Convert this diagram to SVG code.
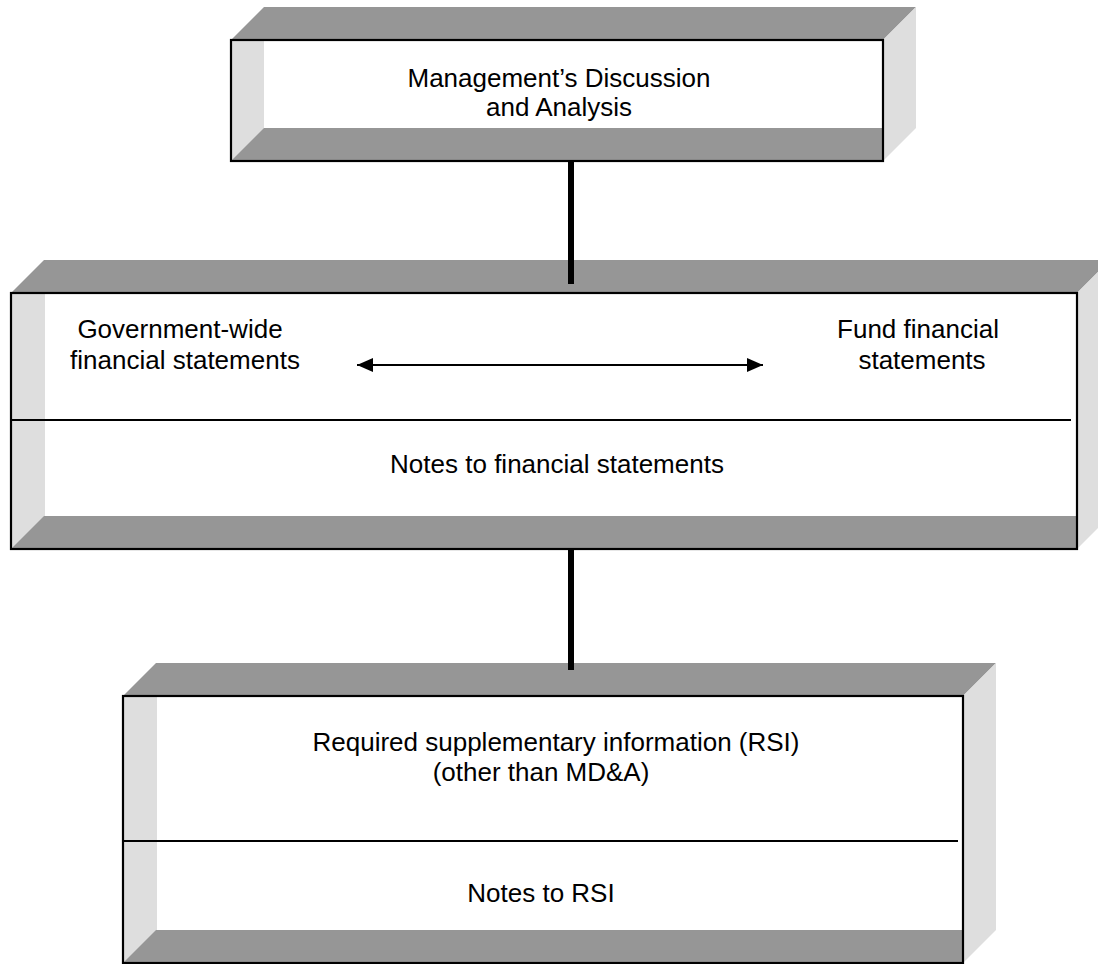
<svg xmlns="http://www.w3.org/2000/svg" width="1098" height="964" viewBox="0 0 1098 964">
  <defs>
    <style>
      .dark { fill: #969696; }
      .light { fill: #dedede; }
      .front { fill: #ffffff; }
      .frame { fill: none; stroke: #000000; stroke-width: 2.2; }
      .div { stroke: #000000; stroke-width: 2; }
      .conn { stroke: #000000; stroke-width: 6; }
      .arrow { stroke: #000000; stroke-width: 2; fill: none; }
      text { font-family: "Liberation Sans", Arial, sans-serif; font-size: 26px; fill: #000000; text-anchor: middle; }
    </style>
    <marker id="ah" markerUnits="userSpaceOnUse" markerWidth="17" markerHeight="15" refX="16" refY="7" orient="auto-start-reverse">
      <path d="M0,0 L16,7 L0,14 z" fill="#000000"/>
    </marker>
  </defs>
  <rect width="1098" height="964" fill="#ffffff"/>

  <g id="node-mda">
    <polygon class="dark" points="231,40 264,7 916,7 883,40"/>
    <polygon class="light" points="883,40 916,7 916,128 883,161"/>
    <rect class="front" x="231" y="40" width="652" height="121"/>
    <rect class="light" x="231" y="40" width="33" height="121"/>
    <polygon class="dark" points="231,161 264,128 883,128 883,161"/>
    <rect class="frame" x="231" y="40" width="652" height="121"/>
    <text x="559" y="87">Management’s Discussion</text>
    <text x="559" y="116">and Analysis</text>
  </g>

  <g id="node-statements">
    <polygon class="dark" points="11,293 44,260 1110,260 1077,293"/>
    <polygon class="light" points="1077,293 1110,260 1110,516 1077,549"/>
    <rect class="front" x="11" y="293" width="1066" height="256"/>
    <rect class="light" x="11" y="293" width="34" height="256"/>
    <polygon class="dark" points="11,549 44,516 1077,516 1077,549"/>
    <rect class="frame" x="11" y="293" width="1066" height="256"/>
    <line class="div" x1="10" y1="420" x2="1071" y2="420"/>
    <text x="180" y="338">Government-wide</text>
    <text x="185" y="369">financial statements</text>
    <text x="918" y="338">Fund financial</text>
    <text x="922" y="369">statements</text>
    <text x="557" y="473">Notes to financial statements</text>
  </g>

  <g id="node-rsi">
    <polygon class="dark" points="123,696 156,663 996,663 963,696"/>
    <polygon class="light" points="963,696 996,663 996,930 963,963"/>
    <rect class="front" x="123" y="696" width="840" height="267"/>
    <rect class="light" x="123" y="696" width="34" height="267"/>
    <polygon class="dark" points="123,963 156,930 963,930 963,963"/>
    <rect class="frame" x="123" y="696" width="840" height="267"/>
    <line class="div" x1="123" y1="841" x2="958" y2="841"/>
    <text x="556" y="751">Required supplementary information (RSI)</text>
    <text x="541" y="781">(other than MD&amp;A)</text>
    <text x="541" y="902">Notes to RSI</text>
  </g>

  <g id="connectors">
    <line class="conn" x1="571" y1="161" x2="571" y2="284"/>
    <line class="conn" x1="571" y1="549" x2="571" y2="670"/>
    <line class="arrow" x1="357" y1="365" x2="763" y2="365" marker-start="url(#ah)" marker-end="url(#ah)"/>
  </g>
</svg>
